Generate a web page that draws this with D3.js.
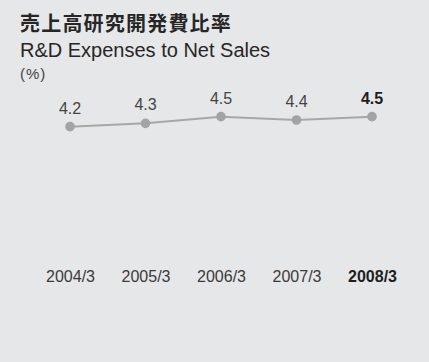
<!DOCTYPE html>
<html>
<head>
<meta charset="utf-8">
<script src="https://cdn.jsdelivr.net/npm/d3@7"></script>
<style>
  html, body { margin: 0; padding: 0; background: #e6e7e8; }
  svg { display: block; }
</style>
</head>
<body>
<script>
// R&D expenses as a share of net sales, fiscal years ending March
const years = ["2004/3", "2005/3", "2006/3", "2007/3", "2008/3"];
const ratios = [4.2, 4.3, 4.5, 4.4, 4.5];
const valueLabels = ["4.2", "4.3", "4.5", "4.4", "4.5"];
const latestIndex = 4;

const W = 429, H = 362;
const svg = d3.select("body").append("svg").attr("width", W).attr("height", H);

svg.append("rect").attr("width", W).attr("height", H).attr("fill", "#e6e7e8");

const latin = "'Liberation Sans', Arial, Helvetica, sans-serif";
const cjk = "'Noto Sans CJK JP', 'Noto Sans CJK SC', sans-serif";

// Titles
svg.append("text").attr("x", 20).attr("y", 31)
  .attr("font-family", cjk).attr("font-weight", 700).attr("font-size", 20)
  .attr("letter-spacing", 1.2).attr("fill", "#262626")
  .text("売上高研究開発費比率");
svg.append("text").attr("x", 20).attr("y", 57)
  .attr("font-family", latin).attr("font-size", 20).attr("fill", "#262626")
  .text("R&D Expenses to Net Sales");
svg.append("text").attr("x", 20).attr("y", 79)
  .attr("font-family", latin).attr("font-size", 15).attr("letter-spacing", 1)
  .attr("fill", "#444")
  .text("(%)");

// Scales
const x = d3.scalePoint().domain(years).range([70, 372]);
const y = d3.scaleLinear().domain([0, 5]).range([266.7, 100]);

// Category axis (labels only)
const xAxis = d3.axisBottom(x).tickSize(0).tickPadding(0);
const gx = svg.append("g").attr("transform", "translate(0,270)").call(xAxis);
gx.select(".domain").remove();
gx.selectAll("text")
  .attr("font-family", latin).attr("font-size", 16)
  .attr("dy", 0).attr("y", 12)
  .attr("fill", (d, i) => i === latestIndex ? "#1e1e1e" : "#3a3a3a")
  .attr("font-weight", (d, i) => i === latestIndex ? 700 : 400);

// Line
const line = d3.line().x((d, i) => x(years[i])).y(d => y(d));
svg.append("path").datum(ratios)
  .attr("d", line).attr("fill", "none")
  .attr("stroke", "#a7a7a7").attr("stroke-width", 2);

// Points
svg.selectAll("circle.pt").data(ratios).join("circle")
  .attr("class", "pt")
  .attr("cx", (d, i) => x(years[i])).attr("cy", d => y(d))
  .attr("r", 4.8).attr("fill", "#a3a3a3");

// Value labels
svg.selectAll("text.val").data(ratios).join("text")
  .attr("class", "val")
  .attr("x", (d, i) => x(years[i])).attr("y", d => y(d) - 13)
  .attr("text-anchor", "middle")
  .attr("font-family", latin).attr("font-size", 16)
  .attr("font-weight", (d, i) => i === latestIndex ? 700 : 400)
  .attr("fill", (d, i) => i === latestIndex ? "#1e1e1e" : "#444")
  .text((d, i) => valueLabels[i]);
</script>
</body>
</html>
